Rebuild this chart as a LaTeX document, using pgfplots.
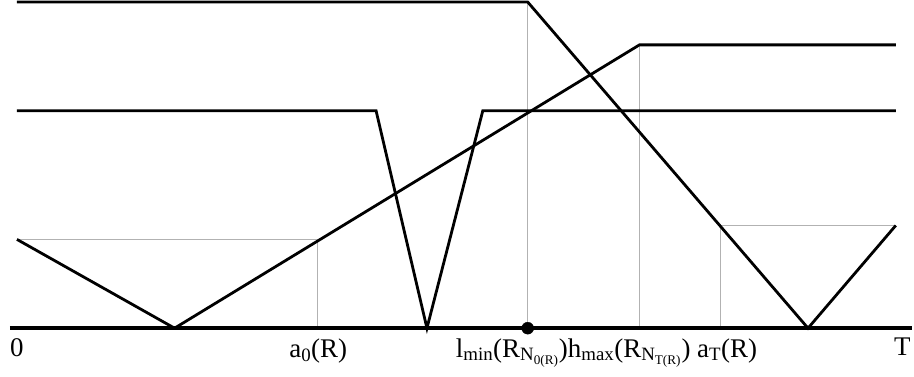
\documentclass[border=0pt]{standalone}
\usepackage{pgfplots}
\pgfplotsset{compat=1.18}
\usepackage{fontspec}
\setmainfont{Liberation Serif}

\begin{document}
\begin{tikzpicture}
\begin{axis}[
    scale only axis,
    width=914pt, height=377pt,
    xmin=0, xmax=914,
    ymin=-48, ymax=329,
    hide axis,
    clip=false,
]
% invisible frame to fix the picture size
\path (axis cs:0,-48) rectangle (axis cs:914,329);

% thin grey guide lines
\addplot[gray!60, line width=1pt] coordinates {(17,89) (318,89) (318,0)};
\addplot[gray!60, line width=1pt] coordinates {(529,327) (529,0)};
\addplot[gray!60, line width=1pt] coordinates {(641,284) (641,0)};
\addplot[gray!60, line width=1pt] coordinates {(898,103) (722,103) (722,0)};

% main curves
\addplot[black, line width=2.8pt, line join=miter] coordinates {
    (17,327) (529,327) (810,0) (898,103)};
\addplot[black, line width=2.8pt, line join=miter] coordinates {
    (17,89) (175,0) (641,284) (898,284)};
\addplot[black, line width=2.8pt, line join=miter] coordinates {
    (17,218) (377,218) (428,0) (484,218) (898,218)};

% time axis
\addplot[black, line width=4.5pt] coordinates {(10,0) (914,0)};
\addplot[only marks, mark=*, mark size=6pt, black] coordinates {(529,0)};

% labels
\tikzset{lbl/.style={anchor=north, inner sep=0pt, font=\fontsize{27}{29}\selectfont}}
\node[lbl] at (axis cs:17,-10) {0};
\node[lbl] at (axis cs:319,-10) {a\textsubscript{0}(R)};
\node[lbl] at (axis cs:608,-10)
    {l\textsubscript{min}(R\textsubscript{N\textsubscript{0(R)}})h\textsubscript{max}(R\textsubscript{N\textsubscript{T(R)}}) a\textsubscript{T}(R)};
\node[lbl, anchor=north west, overlay] at (axis cs:896,-10) {T};
\end{axis}
\end{tikzpicture}
\end{document}
